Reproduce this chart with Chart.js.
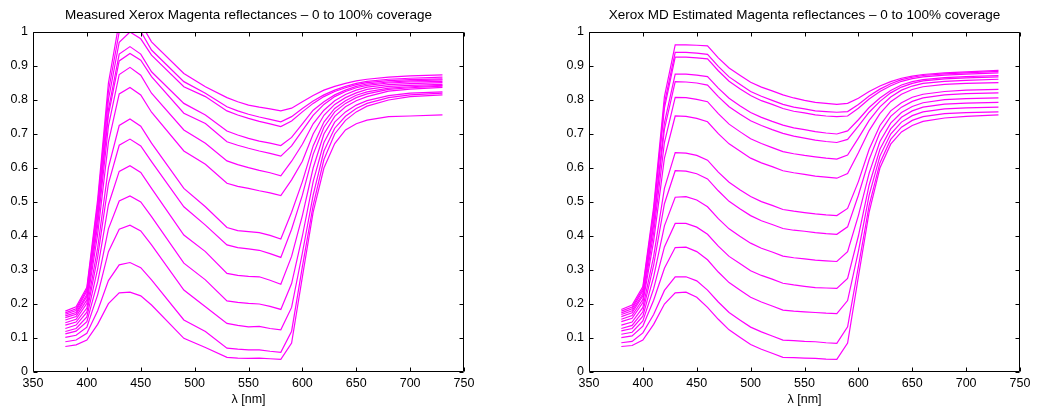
<!DOCTYPE html>
<html>
<head>
<meta charset="utf-8">
<script src="https://cdn.jsdelivr.net/npm/chart.js@4.4.1/dist/chart.umd.min.js"></script>
<style>
  body { margin: 0; background: #fff; }
  canvas { position: absolute; top: 0; }
  #measured { left: 0; }
  #estimated { left: 556px; }
</style>
</head>
<body>
<canvas id="measured" width="518" height="412"></canvas>
<canvas id="estimated" width="481" height="412"></canvas>
<script>
// Magenta reflectance curves, 0..100% coverage (top curve = paper, bottom = full ink)

const wlMeasured = [380, 390, 400, 410, 420, 430, 440, 450, 460, 490, 510, 530, 540, 550, 560, 570, 580,
    590, 600, 610, 620, 630, 640, 650, 660, 680, 700, 730];
const wlEstimated = [380, 390, 400, 410, 420, 430, 440, 450, 460, 470, 480, 490, 500, 510, 520, 530, 540,
    550, 560, 570, 580, 590, 600, 610, 620, 630, 640, 650, 660, 680, 700, 730];

const meas01 = [.179, .192, .249, .507, .850, 1.03, 1.05, 1.026, .971, .878, .839, .807, .795, .785, .779, .774, .768, .776, .795, .813, .829, .840, .849, .856, .861, .867, .871, .874];
const meas02 = [.174, .186, .243, .493, .826, 1.0, 1.025, 1.002, .947, .854, .820, .780, .768, .758, .750, .743, .736, .751, .775, .797, .815, .829, .840, .849, .855, .861, .864, .867];
const meas03 = [.170, .181, .237, .479, .801, .97, 1.0, .980, .932, .839, .810, .768, .756, .746, .737, .730, .722, .738, .765, .790, .810, .825, .836, .845, .851, .857, .860, .862];
const meas04 = [.165, .175, .228, .461, .772, .935, .957, .935, .883, .790, .756, .709, .697, .687, .679, .673, .666, .690, .730, .770, .795, .815, .829, .840, .847, .853, .856, .859];
const meas05 = [.160, .170, .222, .451, .756, .915, .937, .917, .869, .761, .731, .677, .667, .658, .650, .643, .635, .665, .710, .755, .787, .810, .825, .836, .843, .850, .853, .855];
const meas06 = [.153, .163, .212, .431, .723, .875, .896, .873, .820, .712, .673, .621, .610, .601, .593, .586, .577, .620, .670, .730, .770, .798, .816, .829, .838, .845, .848, .851];
const meas07 = [.145, .155, .202, .405, .676, .818, .837, .815, .764, .650, .611, .555, .546, .540, .533, .527, .519, .565, .620, .700, .755, .787, .807, .821, .831, .840, .843, .846];
const meas08 = [.138, .147, .188, .365, .601, .725, .744, .723, .673, .540, .486, .425, .416, .413, .410, .402, .391, .470, .560, .665, .735, .775, .798, .814, .824, .835, .839, .843];
const meas09 = [.128, .138, .176, .338, .554, .667, .685, .665, .619, .486, .432, .374, .366, .362, .358, .348, .337, .420, .520, .640, .720, .765, .790, .807, .818, .831, .836, .841];
const meas10 = [.119, .128, .162, .303, .492, .590, .607, .587, .540, .403, .354, .290, .284, .281, .280, .270, .258, .340, .460, .600, .700, .752, .780, .798, .810, .826, .832, .837];
const meas11 = [.112, .120, .148, .265, .421, .503, .518, .500, .457, .320, .271, .209, .205, .202, .200, .193, .184, .260, .400, .560, .675, .735, .765, .785, .798, .813, .820, .824];
const meas12 = [.102, .108, .132, .227, .354, .420, .432, .415, .374, .241, .192, .143, .137, .133, .134, .128, .124, .190, .350, .520, .650, .717, .752, .775, .790, .807, .815, .820];
const meas13 = [.089, .094, .114, .180, .269, .315, .322, .307, .271, .153, .119, .070, .067, .065, .065, .061, .058, .120, .310, .490, .625, .700, .740, .765, .782, .800, .810, .815];
const meas14 = [.075, .080, .094, .140, .201, .233, .235, .224, .197, .099, .072, .043, .041, .040, .041, .039, .037, .085, .280, .470, .600, .672, .712, .730, .741, .751, .753, .756];

const est01 = [.184, .197, .251, .486, .810, .962, .962, .961, .959, .924, .894, .873, .852, .838, .827, .815, .806, .799, .793, .790, .787, .790, .805, .825, .841, .854, .864, .870, .875, .880, .883, .887];
const est02 = [.179, .191, .245, .474, .790, .940, .940, .938, .934, .899, .868, .846, .825, .811, .799, .787, .779, .774, .768, .766, .764, .766, .787, .812, .832, .848, .860, .867, .872, .877, .880, .884];
const est03 = [.174, .186, .239, .466, .776, .926, .926, .924, .921, .886, .855, .833, .813, .798, .787, .775, .767, .762, .756, .753, .751, .753, .776, .803, .825, .842, .855, .863, .868, .873, .876, .880];
const est04 = [.169, .180, .230, .443, .733, .876, .876, .873, .869, .835, .805, .783, .763, .749, .737, .726, .718, .713, .707, .703, .700, .709, .742, .778, .806, .828, .844, .854, .860, .866, .869, .872];
const est05 = [.163, .174, .224, .432, .714, .854, .853, .850, .844, .810, .780, .759, .739, .725, .713, .702, .694, .688, .682, .678, .675, .684, .723, .764, .796, .821, .838, .849, .856, .862, .865, .868];
const est06 = [.155, .166, .214, .410, .675, .808, .807, .802, .795, .760, .729, .707, .686, .672, .660, .648, .642, .637, .633, .629, .626, .638, .688, .740, .780, .809, .829, .841, .849, .855, .858, .861];
const est07 = [.148, .158, .204, .385, .629, .753, .752, .746, .736, .701, .671, .650, .629, .615, .604, .592, .586, .581, .576, .573, .570, .584, .645, .710, .760, .795, .817, .831, .839, .846, .849, .851];
const est08 = [.138, .147, .190, .340, .540, .645, .644, .637, .623, .588, .558, .536, .516, .501, .490, .478, .473, .469, .465, .462, .460, .481, .560, .655, .725, .768, .792, .808, .817, .825, .829, .831];
const est09 = [.128, .137, .177, .314, .495, .592, .591, .583, .568, .533, .502, .480, .460, .445, .434, .422, .417, .414, .410, .407, .405, .427, .520, .625, .705, .752, .779, .796, .806, .815, .819, .821];
const est10 = [.121, .128, .164, .280, .430, .514, .516, .506, .486, .451, .421, .399, .379, .364, .353, .341, .336, .333, .329, .327, .325, .354, .460, .585, .678, .732, .763, .781, .792, .801, .804, .806];
const est11 = [.111, .117, .150, .245, .368, .437, .437, .426, .405, .370, .340, .319, .298, .284, .273, .261, .256, .252, .248, .247, .246, .275, .400, .550, .655, .715, .749, .768, .779, .788, .791, .793];
const est12 = [.101, .106, .135, .211, .305, .366, .367, .354, .330, .294, .263, .241, .220, .206, .194, .182, .179, .177, .175, .173, .172, .210, .355, .520, .635, .700, .735, .754, .765, .774, .777, .779];
const est13 = [.086, .090, .115, .169, .240, .280, .280, .268, .241, .206, .175, .153, .132, .118, .106, .094, .092, .090, .089, .086, .084, .133, .310, .490, .615, .684, .720, .740, .751, .760, .763, .765];
const est14 = [.075, .078, .094, .140, .200, .233, .235, .220, .190, .155, .124, .102, .081, .067, .055, .043, .042, .041, .040, .038, .037, .085, .280, .470, .600, .670, .706, .725, .737, .747, .752, .756];

const measuredCurves = [meas01, meas02, meas03, meas04, meas05, meas06, meas07, meas08, meas09, meas10, meas11, meas12, meas13, meas14];
const estimatedCurves = [est01, est02, est03, est04, est05, est06, est07, est08, est09, est10, est11, est12, est13, est14];

const xRange = [350, 750];
const yRange = [0, 1];
const titleMeasured = 'Measured Xerox Magenta reflectances \u2013 0 to 100% coverage';
const titleEstimated = 'Xerox MD Estimated Magenta reflectances \u2013 0 to 100% coverage';
const xLabel = '\u03bb [nm]';

Chart.defaults.font.family = '"Liberation Sans", Arial, Helvetica, sans-serif';
Chart.defaults.color = '#000';

// matlab-like box with inward ticks on all four sides
const boxTicks = {
    id: 'boxTicks',
    afterDraw(chart) {
        const { ctx, chartArea: a, scales: { x, y } } = chart;
        const L = Math.round(a.left) + 0.5, R = Math.round(a.right) - 0.5;
        const T = Math.round(a.top) + 0.5, B = Math.round(a.bottom) - 0.5;
        ctx.save();
        ctx.strokeStyle = '#000';
        ctx.lineWidth = 1;
        ctx.beginPath();
        ctx.rect(L, T, R - L, B - T);
        x.ticks.forEach(t => {
            const px = Math.round(x.getPixelForValue(t.value)) + 0.5;
            ctx.moveTo(px, B); ctx.lineTo(px, B - 4);
            ctx.moveTo(px, T); ctx.lineTo(px, T + 4);
        });
        y.ticks.forEach(t => {
            const py = Math.round(y.getPixelForValue(t.value)) + 0.5;
            ctx.moveTo(L, py); ctx.lineTo(L + 4, py);
            ctx.moveTo(R, py); ctx.lineTo(R - 4, py);
        });
        ctx.stroke();
        ctx.restore();
    }
};

function makeDatasets(wl, curves) {
    return curves.map(vals => ({
        data: vals.map((v, i) => ({ x: wl[i], y: v })),
        borderColor: '#ff00ff',
        borderWidth: 1.2,
        pointRadius: 0,
        tension: 0,
        fill: false
    }));
}

function renderPanel(id, title, wl, curves, padRight) {
    const ctx = document.getElementById(id).getContext('2d');
    return new Chart(ctx, {
        type: 'line',
        data: { datasets: makeDatasets(wl, curves) },
        plugins: [boxTicks],
        options: {
            responsive: false,
            animation: false,
            devicePixelRatio: 1,
            layout: { padding: { left: 0, right: padRight, top: 0, bottom: 0 } },
            plugins: {
                legend: { display: false },
                tooltip: { enabled: false },
                title: {
                    display: true,
                    text: title,
                    fullSize: false,
                    font: { size: 13.5, weight: 'normal' },
                    padding: { top: 7, bottom: 8.8 }
                }
            },
            scales: {
                x: {
                    type: 'linear',
                    min: xRange[0],
                    max: xRange[1],
                    ticks: { stepSize: 50, padding: 4, font: { size: 12.5 } },
                    grid: { display: false, drawTicks: false },
                    border: { display: false },
                    title: { display: true, text: xLabel, font: { size: 12.5 }, padding: { top: 0, bottom: 4.5 } },
                    afterFit: s => { s.height = 40; }
                },
                y: {
                    min: yRange[0],
                    max: yRange[1],
                    ticks: {
                        stepSize: 0.1,
                        padding: 5,
                        font: { size: 12.5 },
                        callback: v => String(+v.toFixed(1))
                    },
                    grid: { display: false, drawTicks: false },
                    border: { display: false },
                    afterFit: s => { s.width = 33; }
                }
            }
        }
    });
}

renderPanel('measured', titleMeasured, wlMeasured, measuredCurves, 54);
renderPanel('estimated', titleEstimated, wlEstimated, estimatedCurves, 17);
</script>
</body>
</html>
